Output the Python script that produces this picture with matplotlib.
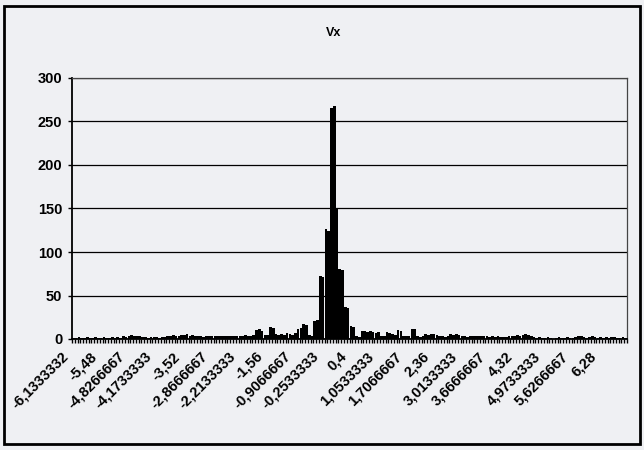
import matplotlib
matplotlib.use("Agg")
import matplotlib.pyplot as plt
import matplotlib.patches as patches
from matplotlib.ticker import FixedLocator
from matplotlib.transforms import ScaledTranslation
import numpy as np

plt.rcParams["font.family"] = ["Liberation Sans", "DejaVu Sans"]

TITLE = "Vx"

# histogram counts, one value per bin (200 bins of width 0.0653333)
vx_counts = [
    1, 1, 2, 1, 1, 2, 1, 1, 2, 1,
    1, 2, 1, 1, 2, 1, 2, 1, 3, 2,
    4, 5, 4, 3, 3, 2, 2, 1, 2, 2,
    2, 1, 2, 2, 3, 4, 5, 4, 3, 5,
    5, 6, 4, 5, 3, 3, 4, 2, 3, 4,
    3, 3, 4, 3, 4, 3, 4, 3, 4, 4,
    3, 4, 5, 4, 4, 5, 10, 11, 9, 5,
    5, 14, 13, 6, 5, 6, 5, 7, 6, 5,
    7, 12, 13, 17, 16, 5, 4, 21, 22, 72,
    71, 126, 124, 265, 268, 150, 80, 79, 37, 36,
    15, 14, 3, 2, 9, 9, 8, 9, 8, 7,
    8, 4, 4, 8, 7, 6, 5, 10, 9, 4,
    3, 4, 12, 11, 3, 2, 3, 6, 5, 6,
    6, 5, 3, 3, 2, 3, 6, 5, 6, 5,
    3, 3, 2, 3, 4, 4, 3, 4, 4, 3,
    2, 3, 2, 3, 2, 2, 2, 4, 4, 3,
    5, 4, 5, 6, 5, 4, 2, 1, 2, 1,
    1, 2, 1, 0, 1, 2, 1, 1, 2, 1,
    1, 2, 4, 3, 2, 1, 2, 3, 2, 1,
    2, 1, 2, 1, 2, 2, 1, 1, 2, 1,
]

# category labels shown every 10th bin
label_step = 10
x_labels = [
    "-6,1333332", "-5,48", "-4,8266667", "-4,1733333", "-3,52",
    "-2,8666667", "-2,2133333", "-1,56", "-0,9066667", "-0,2533333",
    "0,4", "1,0533333", "1,7066667", "2,36", "3,0133333",
    "3,6666667", "4,32", "4,9733333", "5,6266667", "6,28",
]
y_ticks = [0, 50, 100, 150, 200, 250, 300]

bg = "#eff0f3"
fig = plt.figure(figsize=(6.44, 4.5), dpi=100, facecolor=bg)
ax = fig.add_axes([72 / 644, 1 - 339 / 450, 555 / 644, 261 / 450], facecolor=bg)

n = len(vx_counts)
pos = np.arange(n)
ax.bar(pos, vx_counts, width=0.95, color="black", zorder=3)

ax.set_xlim(-0.5, n - 0.5)
ax.set_ylim(0, 300)
ax.set_yticks(y_ticks)
ax.set_yticklabels([str(v) for v in y_ticks], fontsize=10.5, fontweight="bold")
ax.yaxis.grid(True, color="black", lw=0.9, zorder=1)
ax.tick_params(axis="y", length=3, width=1, pad=4, color="black")

# labels on every 10th category, tick marks between all categories
ax.set_xticks(pos[::label_step])
ax.set_xticklabels(x_labels, fontsize=10.5, fontweight="bold", rotation=45,
                   ha="right", va="center", rotation_mode="anchor")
ax.xaxis.set_minor_locator(FixedLocator(np.arange(n + 1) - 0.5))
ax.tick_params(axis="x", which="major", length=0, pad=11)
ax.tick_params(axis="x", which="minor", length=3, width=1, color="black")
shift = ScaledTranslation(-7 / 100, 0, fig.dpi_scale_trans)
for lab in ax.get_xticklabels():
    lab.set_transform(lab.get_transform() + shift)

for side in ["left", "bottom"]:
    ax.spines[side].set_color("black")
    ax.spines[side].set_linewidth(1.3)
for side in ["top", "right"]:
    ax.spines[side].set_color("#444444")
    ax.spines[side].set_linewidth(0.9)

fig.text(334 / 644, 1 - 33 / 450, TITLE, ha="center", va="center",
         fontsize=9, fontweight="bold")

# chart area frame
fig.patches.append(patches.Rectangle((4 / 644, 6 / 450), 636 / 644, 438 / 450,
                                     transform=fig.transFigure, fill=False,
                                     ec="black", lw=2))

fig.savefig("out.png", dpi=100, facecolor=bg)
